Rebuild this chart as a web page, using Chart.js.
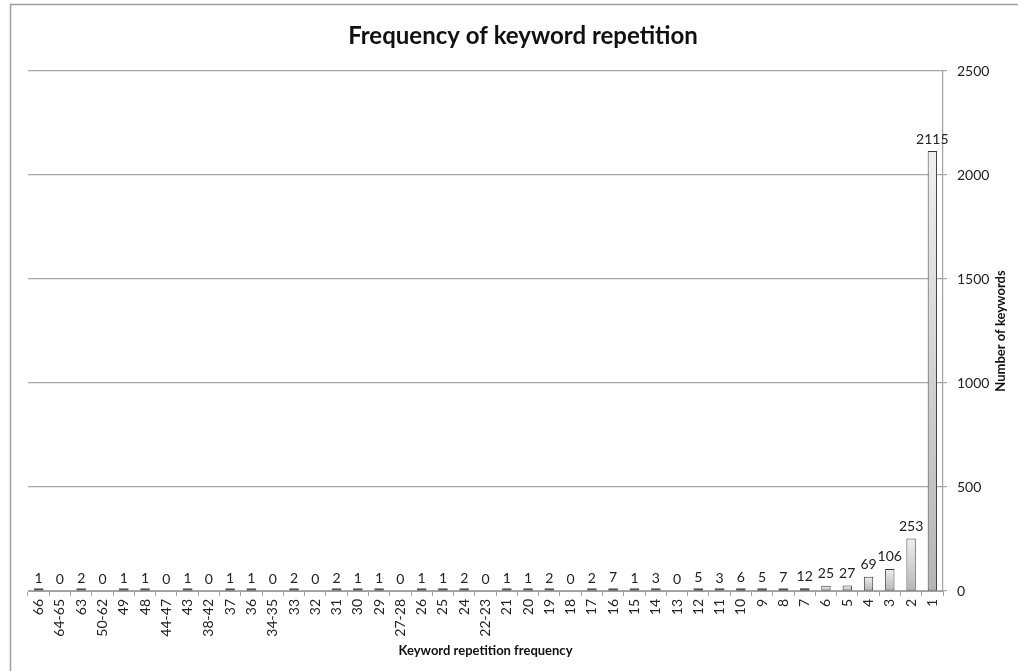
<!DOCTYPE html>
<html>
<head>
<meta charset="utf-8">
<script src="https://cdn.jsdelivr.net/npm/chart.js@4"></script>
<style>
  html, body { margin: 0; padding: 0; background: #fff; }
  #wrap { width: 1018px; height: 671px; position: relative; }
</style>
</head>
<body>
<div id="wrap"><canvas id="chart" width="1018" height="671"></canvas></div>
<script>
// Keyword repetition frequency buckets (most repeated on the left)
const categories = ['66','64-65','63','50-62','49','48','44-47','43','38-42','37','36','34-35','33','32','31','30','29','27-28','26','25','24','22-23','21','20','19','18','17','16','15','14','13','12','11','10','9','8','7','6','5','4','3','2','1'];
// Number of keywords in each bucket
const keywordCounts = [1,0,2,0,1,1,0,1,0,1,1,0,2,0,2,1,1,0,1,1,2,0,1,1,2,0,2,7,1,3,0,5,3,6,5,7,12,25,27,69,106,253,2115];
const yTicks = [0, 500, 1000, 1500, 2000, 2500];

const FONT = 'Lato, "Open Sans", sans-serif';

// Thin frame along the top and left edges
const framePlugin = {
  id: 'frame',
  beforeDraw(chart) {
    const ctx = chart.ctx;
    ctx.save();
    ctx.strokeStyle = '#a0a0a0';
    ctx.lineWidth = 1.5;
    ctx.beginPath();
    ctx.moveTo(10.5, 671);
    ctx.lineTo(10.5, 4.5);
    ctx.lineTo(1018, 4.5);
    ctx.stroke();
    ctx.restore();
  }
};

// Very short bars still show their outline as a small dash
const thinBars = {
  id: 'thinBars',
  afterDatasetsDraw(chart) {
    const ctx = chart.ctx;
    const meta = chart.getDatasetMeta(0);
    ctx.save();
    ctx.strokeStyle = '#555';
    ctx.lineWidth = 2;
    meta.data.forEach((el, i) => {
      if (keywordCounts[i] > 0 && el.base - el.y < 2) {
        ctx.beginPath();
        ctx.moveTo(el.x - el.width / 2, el.base - 1);
        ctx.lineTo(el.x + el.width / 2, el.base - 1);
        ctx.stroke();
      }
    });
    ctx.restore();
  }
};

// Value printed above each bar
const valueLabels = {
  id: 'valueLabels',
  afterDatasetsDraw(chart) {
    const ctx = chart.ctx;
    const meta = chart.getDatasetMeta(0);
    ctx.save();
    ctx.font = '14px ' + FONT;
    ctx.fillStyle = '#222';
    ctx.textAlign = 'center';
    ctx.textBaseline = 'bottom';
    meta.data.forEach((el, i) => {
      ctx.fillText(String(keywordCounts[i]), el.x, el.y - 5);
    });
    ctx.restore();
  }
};

// Right-hand axis title, reading bottom to top
const yTitle = {
  id: 'yTitle',
  afterDraw(chart) {
    const a = chart.chartArea;
    const ctx = chart.ctx;
    ctx.save();
    ctx.translate(1001, (a.top + a.bottom) / 2);
    ctx.rotate(-Math.PI / 2);
    ctx.font = 'bold 13px ' + FONT;
    ctx.fillStyle = '#111';
    ctx.textAlign = 'center';
    ctx.textBaseline = 'middle';
    ctx.fillText('Number of keywords', 0, 0);
    ctx.restore();
  }
};

function barGradient(context) {
  const chart = context.chart;
  const ys = chart.scales && chart.scales.y;
  if (!ys || !chart.chartArea) return '#d8d8d8';
  const v = context.raw;
  const top = ys.getPixelForValue(v);
  const base = ys.getPixelForValue(0);
  if (!isFinite(top) || base - top < 1) return '#bdbdbd';
  const g = chart.ctx.createLinearGradient(0, top, 0, base);
  g.addColorStop(0, '#f0f0f0');
  g.addColorStop(1, '#b5b5b5');
  return g;
}

new Chart(document.getElementById('chart'), {
  type: 'bar',
  data: {
    labels: categories,
    datasets: [{
      data: keywordCounts,
      backgroundColor: barGradient,
      borderColor: '#3a3a3a',
      borderWidth: 1,
      borderSkipped: false,
      barPercentage: 0.44,
      categoryPercentage: 1.0
    }]
  },
  options: {
    responsive: false,
    animation: false,
    devicePixelRatio: 1,
    layout: { padding: { left: 28, right: 0, top: 0, bottom: 0 } },
    plugins: {
      legend: { display: false },
      tooltip: { enabled: false },
      title: {
        display: true,
        text: 'Frequency of keyword repetition',
        color: '#111',
        font: { family: FONT, size: 24, weight: 'bold' },
        padding: { top: 22, bottom: 20.2 }
      }
    },
    scales: {
      x: {
        grid: {
          offset: true,
          drawOnChartArea: false,
          drawTicks: true,
          tickLength: 5,
          color: '#a0a0a0'
        },
        border: { color: '#a0a0a0', width: 1 },
        ticks: {
          autoSkip: false,
          maxRotation: 90,
          minRotation: 90,
          color: '#222',
          font: { family: FONT, size: 14 },
          padding: 3
        },
        title: {
          display: true,
          text: 'Keyword repetition frequency',
          color: '#111',
          font: { family: FONT, size: 13, weight: 'bold' },
          padding: { top: 4, bottom: 12 }
        },
        afterFit(scale) { scale.height = 80; }
      },
      y: {
        position: 'right',
        min: 0,
        max: 2500,
        afterBuildTicks(scale) { scale.ticks = yTicks.map(v => ({ value: v })); },
        grid: {
          color: '#a8a8a8',
          lineWidth: 1.2,
          drawTicks: true,
          tickLength: 4
        },
        border: { color: '#a0a0a0', width: 1.2 },
        ticks: {
          color: '#222',
          font: { family: FONT, size: 14 },
          padding: 10,
          callback: (v) => String(v)
        },
        afterFit(scale) { scale.width = 75; }
      }
    }
  },
  plugins: [framePlugin, thinBars, valueLabels, yTitle]
});
</script>
</body>
</html>
